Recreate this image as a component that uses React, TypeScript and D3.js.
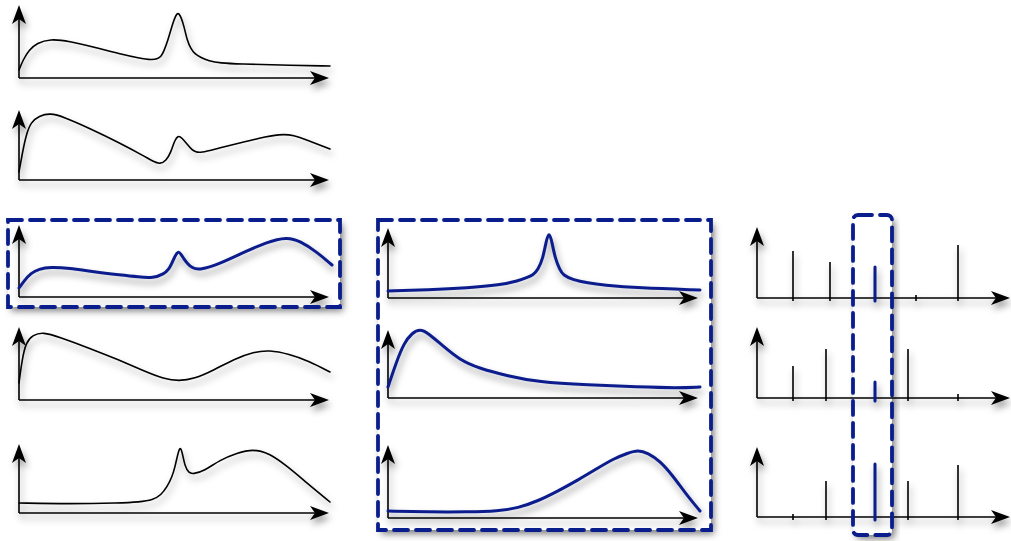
import React from "react";
import * as d3 from "d3";

type Pt = [number, number];

// Left column curves: [x offset along axis, height above axis]
const curveP1: Pt[] = [[0,8],[4,18],[10,28],[18,35],[31,39],[50,37],[75,31],[101,24],[120,20],[133,18],[138,19],[142,21],[145,27],[149,38],[153,52],[156,61],[159,66],[162,61],[165,52],[168,38],[172,29],[176,24],[181,21],[190,17],[201,15],[221,14],[260,13],[311,12]];
const curveP2: Pt[] = [[0,8],[3,25],[7,45],[12,58],[20,64],[31,67],[45,63],[70,52],[101,37],[125,24],[135,18],[141,16],[147,19],[152,28],[155,38],[159,45],[163,42],[168,36],[173,30],[177,28],[181,27],[200,32],[221,37],[240,42],[261,46],[275,45],[288,40],[311,31]];
const curveP3: Pt[] = [[0,9],[5,16],[12,24],[20,28],[31,30],[50,29],[75,25],[101,22],[120,20],[134,19],[145,23],[150,28],[153,34],[156,41],[159,46],[162,43],[165,38],[168,34],[173,29],[181,27],[200,33],[221,43],[248,55],[268,60],[281,56],[298,45],[313,32]];
const curveP4: Pt[] = [[0,17],[3,40],[7,58],[14,65],[24,68],[40,63],[70,52],[100,40],[125,29],[145,21],[160,19],[175,21],[195,30],[215,41],[235,48],[250,50],[270,46],[290,39],[311,28]];
const curveP5: Pt[] = [[0,10],[50,9],[101,10],[120,11],[134,13],[142,18],[148,26],[153,36],[156,46],[159,60],[161,66],[163,62],[166,46],[170,40],[174,39],[185,42],[201,53],[218,60],[234,64],[250,60],[268,47],[288,30],[311,11]];

// Middle column curves
const curveMA: Pt[] = [[0,7],[40,8],[80,10],[112,13],[130,17],[140,21],[145,23],[150,28],[155,40],[158,56],[161,67],[164,56],[167,40],[172,28],[175,23],[185,18],[200,15],[215,13],[250,10],[312,8]];
const curveMB: Pt[] = [[0,11],[8,35],[16,55],[24,65],[32,69],[40,65],[55,52],[72,38],[90,30],[120,22],[150,16],[200,13],[250,11],[290,10],[312,11]];
const curveMC: Pt[] = [[0,7],[40,6],[80,6],[110,7],[130,10],[150,17],[170,27],[190,38],[210,50],[225,59],[240,65],[250,68],[260,65],[272,57],[285,42],[298,24],[312,7]];

// Right column stems
const stemR1X = [36, 73, 118, 159, 201];
const stemR1H = [47, 36, 31, 3, 53];
const stemR2X = [36, 69, 118, 151, 201];
const stemR2H = [32, 49, 16, 49, 4];
const stemR3X = [36, 69, 118, 151, 201];
const stemR3H = [3, 36, 53, 36, 52];
const highlightIndex = 2;

const BLUE = "#0a1d8c";

type LinePanel = { ox: number; oy: number; w: number; h: number; data: Pt[]; blue: boolean };
type StemPanel = { ox: number; oy: number; w: number; h: number; xs: number[]; hs: number[] };

const linePanels: LinePanel[] = [
  { ox: 19, oy: 78, w: 310, h: 73, data: curveP1, blue: false },
  { ox: 19, oy: 180, w: 310, h: 70, data: curveP2, blue: false },
  { ox: 19, oy: 297, w: 310, h: 72, data: curveP3, blue: true },
  { ox: 19, oy: 400, w: 310, h: 73, data: curveP4, blue: false },
  { ox: 19, oy: 513, w: 310, h: 69, data: curveP5, blue: false },
  { ox: 388, oy: 298, w: 310, h: 70, data: curveMA, blue: true },
  { ox: 388, oy: 398, w: 310, h: 68, data: curveMB, blue: true },
  { ox: 388, oy: 518, w: 310, h: 73, data: curveMC, blue: true },
];

const stemPanels: StemPanel[] = [
  { ox: 757, oy: 298, w: 253, h: 71, xs: stemR1X, hs: stemR1H },
  { ox: 757, oy: 398, w: 253, h: 71, xs: stemR2X, hs: stemR2H },
  { ox: 757, oy: 517, w: 253, h: 70, xs: stemR3X, hs: stemR3H },
];

function arrowRight(x: number, y: number) {
  return `M${x},${y} L${x - 19},${y - 7} L${x - 14},${y} L${x - 19},${y + 7} Z`;
}
function arrowUp(x: number, y: number) {
  return `M${x},${y} L${x - 7},${y + 19} L${x},${y + 14} L${x + 7},${y + 19} Z`;
}

function Axes({ ox, oy, w, h }: { ox: number; oy: number; w: number; h: number }) {
  return (
    <g>
      <line x1={ox} y1={oy} x2={ox + w - 10} y2={oy} stroke="#000" strokeWidth={1.6} />
      <line x1={ox} y1={oy} x2={ox} y2={oy - h + 10} stroke="#000" strokeWidth={1.6} />
      <path d={arrowRight(ox + w, oy)} fill="#000" />
      <path d={arrowUp(ox, oy - h)} fill="#000" />
    </g>
  );
}

export default function App() {
  return (
    <div style={{ position: "absolute", left: 0, top: 0 }}>
      <svg width={1011} height={541} style={{ display: "block", background: "#fff" }}>
        <defs>
          <filter id="sh" x="-10%" y="-30%" width="130%" height="180%">
            <feDropShadow dx="2" dy="5" stdDeviation="3.5" floodColor="#000" floodOpacity="0.4" />
          </filter>
          <filter id="boxsh" x="-10%" y="-10%" width="130%" height="130%">
            <feDropShadow dx="3" dy="4" stdDeviation="3.5" floodColor="#000" floodOpacity="0.5" />
          </filter>
        </defs>

        {/* highlight boxes (background) */}
        <rect x={8} y={220} width={332} height={87} fill="#fff" filter="url(#boxsh)" />
        <rect x={378} y={220} width={333} height={310} fill="#fff" filter="url(#boxsh)" />
        <rect x={853} y={215} width={39} height={320} rx={5} fill="#fff" filter="url(#boxsh)" />

        {linePanels.map((p, i) => {
          const x = d3.scaleLinear().domain([0, p.w]).range([p.ox, p.ox + p.w]);
          const y = d3.scaleLinear().domain([0, p.h]).range([p.oy, p.oy - p.h]);
          const line = d3
            .line<Pt>()
            .x((d) => x(d[0]))
            .y((d) => y(d[1]))
            .curve(d3.curveBasis);
          return (
            <g key={"l" + i} filter="url(#sh)">
              <Axes ox={p.ox} oy={p.oy} w={p.w} h={p.h} />
              <path
                d={line(p.data) || ""}
                fill="none"
                stroke={p.blue ? BLUE : "#000"}
                strokeWidth={p.blue ? 3 : 1.6}
                strokeLinejoin="round"
                strokeLinecap="round"
              />
            </g>
          );
        })}

        {stemPanels.map((p, i) => {
          const x = d3.scaleLinear().domain([0, p.w]).range([p.ox, p.ox + p.w]);
          const y = d3.scaleLinear().domain([0, p.h]).range([p.oy, p.oy - p.h]);
          return (
            <g key={"s" + i} filter="url(#sh)">
              <Axes ox={p.ox} oy={p.oy} w={p.w} h={p.h} />
              {p.xs.map((sx, j) => (
                <line
                  key={j}
                  x1={x(sx)}
                  x2={x(sx)}
                  y1={y(-3)}
                  y2={y(p.hs[j])}
                  stroke={j === highlightIndex ? BLUE : "#000"}
                  strokeWidth={j === highlightIndex ? 3 : 1.6}
                  strokeLinecap={j === highlightIndex ? "round" : "butt"}
                />
              ))}
            </g>
          );
        })}

        {/* dashed outlines */}
        <g fill="none" stroke={BLUE} strokeWidth={3.8} strokeDasharray="14 8" strokeLinecap="round">
          <rect x={8} y={220} width={332} height={87} />
          <rect x={378} y={220} width={333} height={310} />
          <rect x={853} y={215} width={39} height={320} rx={5} />
        </g>
      </svg>
    </div>
  );
}
